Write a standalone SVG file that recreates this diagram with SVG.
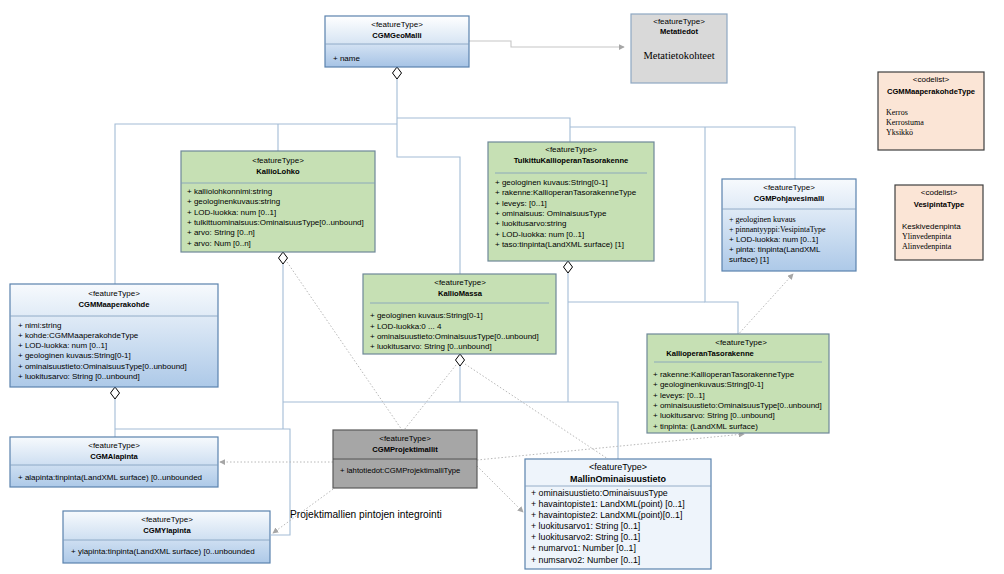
<svg xmlns="http://www.w3.org/2000/svg" width="1004" height="574" viewBox="0 0 1004 574">
<defs>
<linearGradient id="gBlue" x1="0" y1="0" x2="0" y2="1"><stop offset="0" stop-color="#f7fafd"/><stop offset="1" stop-color="#adc9e8"/></linearGradient>
<linearGradient id="gHead" x1="0" y1="0" x2="0" y2="1"><stop offset="0" stop-color="#ffffff"/><stop offset="1" stop-color="#d6e4f3"/></linearGradient>
<linearGradient id="gBody" x1="0" y1="0" x2="0" y2="1"><stop offset="0" stop-color="#d3e2f3"/><stop offset="1" stop-color="#a6c3e5"/></linearGradient>
<marker id="ah" viewBox="0 0 8 8" refX="7" refY="4" markerWidth="6" markerHeight="6" orient="auto" markerUnits="userSpaceOnUse"><path d="M0,0 L8,4 L0,8 z" fill="#a6a6a6"/></marker>
<style>
.t{font-family:"Liberation Sans",Arial,sans-serif;font-size:8px;fill:#000}
.c{text-anchor:middle}
.b{font-weight:bold;font-size:7.6px;text-anchor:middle}
.sf{font-family:"Liberation Serif","Times New Roman",serif}
.conn{fill:none;stroke:#a3bcd6;stroke-width:1.1}
.dot{fill:none;stroke:#b8b8b8;stroke-width:1;stroke-dasharray:1.5 2}
.bb{fill:url(#gBlue);stroke:#5a82ad;stroke-width:1.2}
.gb{fill:#c6e0b4;stroke:#6e8898;stroke-width:1.2}
.dv{stroke:#7f9dbd;stroke-width:0.8}
.dm{fill:#fff;stroke:#000;stroke-width:1}
.cl{fill:#fbe5d6;stroke:#3f3f3f;stroke-width:1.2}
</style>
</defs>
<rect width="1004" height="574" fill="#fff"/>

<g id="connectors">
<polyline class="conn" style="stroke:#c6c6c6" points="469,41 511,41 511,47 624,47" marker-end="url(#ah)"/>
<polyline class="conn" points="397,79 397,157 460,157 460,274"/>
<polyline class="conn" points="397,124 115,124 115,284"/>
<polyline class="conn" points="278,124 278,151"/>
<polyline class="conn" points="397,118 570,118 570,142"/>
<polyline class="conn" points="570,127 795,127 795,179"/>
<polyline class="conn" points="705,127 705,302 738,302 738,334"/>
<polyline class="conn" points="568,273 568,402"/>
<polyline class="conn" points="568,302 705,302"/>
<polyline class="conn" points="283,264 283,429"/>
<polyline class="conn" points="283,402 618,402 618,459"/>
<polyline class="conn" points="460,366 460,402"/>
<polyline class="conn" points="115,399 115,437"/>
<polyline class="conn" points="115,429 290,429 290,535 271,535"/>
<line class="dot" x1="333" y1="462" x2="220" y2="462" marker-end="url(#ah)"/>
<line class="dot" x1="477" y1="460" x2="744" y2="434" marker-end="url(#ah)"/>
<line class="dot" x1="336" y1="487" x2="273" y2="533" marker-end="url(#ah)"/>
<line class="dot" x1="477" y1="466" x2="523" y2="512" marker-end="url(#ah)"/>
<line class="dot" x1="287" y1="262" x2="402" y2="430"/>
<line class="dot" x1="456" y1="365" x2="404" y2="430"/>
<line class="dot" x1="465" y1="364" x2="608" y2="459"/>
<line class="dot" x1="735" y1="338" x2="793" y2="274" marker-end="url(#ah)"/>
<polygon class="dm" points="397,67 401.5,73 397,79 392.5,73"/>
<polygon class="dm" points="283,252 287.5,258 283,264 278.5,258"/>
<polygon class="dm" points="568,261 572.5,267 568,273 563.5,267"/>
<polygon class="dm" points="460,354 464.5,360 460,366 455.5,360"/>
<polygon class="dm" points="115,387 119.5,393 115,399 110.5,393"/>
</g>

<g id="CGMGeoMalli">
<rect x="325" y="16" width="144" height="28" fill="url(#gHead)"/>
<rect x="325" y="44" width="144" height="23" fill="url(#gBody)"/>
<rect x="325" y="16" width="144" height="51" fill="none" stroke="#5a82ad" stroke-width="1.2"/>
<line class="dv" x1="325" y1="44" x2="469" y2="44"/>
<text class="t c" x="397" y="27">&lt;featureType&gt;</text>
<text class="t b" x="397" y="38">CGMGeoMalli</text>
<text class="t" x="333" y="61">+ name</text>
</g>

<g id="Metatiedot">
<rect x="631" y="14" width="96" height="69" fill="#d9d9d9" stroke="#8ea7c2" stroke-width="1.2"/>
<text class="t c" x="679" y="24">&lt;featureType&gt;</text>
<text class="t b" x="679" y="34">Metatiedot</text>
<text class="t c sf" x="679" y="59" style="font-size:10.5px">Metatietokohteet</text>
</g>

<g id="CGMMaaperakohdeType">
<rect class="cl" x="878" y="72" width="106" height="78"/>
<text class="t c" x="931" y="82">&lt;codelist&gt;</text>
<text class="t b" x="931" y="94">CGMMaaperakohdeType</text>
<text class="t sf" x="886" y="115">Kerros</text>
<text class="t sf" x="886" y="125">Kerrostuma</text>
<text class="t sf" x="886" y="135">Yksikkö</text>
</g>

<g id="VesipintaType">
<rect class="cl" x="895" y="185" width="88" height="75"/>
<text class="t c" x="939" y="195">&lt;codelist&gt;</text>
<text class="t b" x="939" y="207">VesipintaType</text>
<text class="t" x="902" y="229">Keskivedenpinta</text>
<text class="t sf" x="902" y="239">Ylinvedenpinta</text>
<text class="t sf" x="902" y="249">Alinvedenpinta</text>
</g>

<g id="KallioLohko">
<rect class="gb" x="181" y="151" width="194" height="101"/>
<line class="dv" x1="181" y1="183" x2="375" y2="183"/>
<text class="t c" x="278" y="163">&lt;featureType&gt;</text>
<text class="t b" x="278" y="174">KallioLohko</text>
<text class="t" x="187" y="194">+ kalliolohkonnimi:string</text>
<text class="t" x="187" y="204">+ geologinenkuvaus:string</text>
<text class="t" x="187" y="214.5">+ LOD-luokka: num [0..1]</text>
<text class="t" x="187" y="225">+ tulkittuominaisuus:OminaisuusType[0..unbound]</text>
<text class="t" x="187" y="235">+ arvo: String [0..n]</text>
<text class="t" x="187" y="245.5">+ arvo: Num [0..n]</text>
</g>

<g id="TulkittuKallioperanTasorakenne">
<rect class="gb" x="488" y="142" width="166" height="119"/>
<line class="dv" x1="495" y1="173" x2="647" y2="173"/>
<text class="t c" x="571" y="152">&lt;featureType&gt;</text>
<text class="t b" x="571" y="163">TulkittuKallioperanTasorakenne</text>
<text class="t" x="495" y="185">+ geologinen kuvaus:String[0-1]</text>
<text class="t" x="495" y="195">+ rakenne:KallioperanTasorakenneType</text>
<text class="t" x="495" y="205.5">+ leveys: [0..1]</text>
<text class="t" x="495" y="216">+ ominaisuus: OminaisuusType</text>
<text class="t" x="495" y="226">+ luokitusarvo:string</text>
<text class="t" x="495" y="236.5">+ LOD-luokka: num [0..1]</text>
<text class="t" x="495" y="247">+ taso:tinpinta(LandXML surface) [1]</text>
</g>

<g id="CGMPohjavesimalli">
<rect class="bb" x="722" y="179" width="134" height="92"/>
<line class="dv" x1="722" y1="209" x2="856" y2="209"/>
<text class="t c" x="789" y="190">&lt;featureType&gt;</text>
<text class="t b" x="789" y="201">CGMPohjavesimalli</text>
<text class="t sf" x="729" y="222">+ geologinen kuvaus</text>
<text class="t sf" x="729" y="232">+ pinnantyyppi:VesipintaType</text>
<text class="t" x="729" y="242">+ LOD-luokka: num [0..1]</text>
<text class="t" x="729" y="252">+ pinta: tinpinta(LandXML</text>
<text class="t" x="729" y="262">surface) [1]</text>
</g>

<g id="CGMMaaperakohde">
<rect class="bb" x="10" y="284" width="208" height="103"/>
<line class="dv" x1="10" y1="316" x2="218" y2="316"/>
<text class="t c" x="114" y="296">&lt;featureType&gt;</text>
<text class="t b" x="114" y="307">CGMMaaperakohde</text>
<text class="t" x="18" y="328">+ nimi:string</text>
<text class="t" x="18" y="338">+ kohde:CGMMaaperakohdeType</text>
<text class="t" x="18" y="348">+ LOD-luokka: num [0..1]</text>
<text class="t" x="18" y="358">+ geologinen kuvaus:String[0-1]</text>
<text class="t" x="18" y="368.5">+ ominaisuustieto:OminaisuusType[0..unbound]</text>
<text class="t" x="18" y="379">+ luokitusarvo: String [0..unbound]</text>
</g>

<g id="KallioMassa">
<rect class="gb" x="363" y="274" width="193" height="80"/>
<line class="dv" x1="370" y1="303" x2="549" y2="303"/>
<text class="t c" x="460" y="285">&lt;featureType&gt;</text>
<text class="t b" x="460" y="296">KallioMassa</text>
<text class="t" x="370" y="318">+ geologinen kuvaus:String[0-1]</text>
<text class="t" x="370" y="328.5">+ LOD-luokka:0 ... 4</text>
<text class="t" x="370" y="339">+ ominaisuustieto:OminaisuusType[0..unbound]</text>
<text class="t" x="370" y="349">+ luokitusarvo: String [0..unbound]</text>
</g>

<g id="KallioperanTasorakenne">
<rect class="gb" x="647" y="334" width="182" height="99"/>
<line class="dv" x1="654" y1="362" x2="822" y2="362"/>
<text class="t c" x="741" y="345">&lt;featureType&gt;</text>
<text class="t b" x="710" y="356">KallioperanTasorakenne</text>
<text class="t" x="653" y="377">+ rakenne:KallioperanTasorakenneType</text>
<text class="t" x="653" y="387">+ geologinenkuvaus:String[0-1]</text>
<text class="t" x="653" y="397.5">+ leveys: [0..1]</text>
<text class="t" x="653" y="408">+ ominaisuustieto:OminaisuusType[0..unbound]</text>
<text class="t" x="653" y="418">+ luokitusarvo: String [0..unbound]</text>
<text class="t" x="653" y="428.5">+ tinpinta: (LandXML surface)</text>
</g>

<g id="CGMAlapinta">
<rect class="bb" x="10" y="437" width="208" height="50"/>
<line class="dv" x1="10" y1="465" x2="218" y2="465"/>
<text class="t c" x="114" y="448">&lt;featureType&gt;</text>
<text class="t b" x="114" y="459">CGMAlapinta</text>
<text class="t" x="18" y="480">+ alapinta:tinpinta(LandXML surface) [0..unbounded</text>
</g>

<g id="CGMProjektimallit">
<rect x="333" y="430" width="144" height="58" fill="#a6a6a6" stroke="#5a5a5a" stroke-width="1.2"/>
<line x1="333" y1="459" x2="477" y2="459" stroke="#404040" stroke-width="0.8"/>
<text class="t c" x="405" y="441">&lt;featureType&gt;</text>
<text class="t b" x="405" y="452">CGMProjektimallit</text>
<text class="t" x="340" y="473" style="font-size:7.7px">+ lahtotiedot:CGMProjektimalliType</text>
</g>

<g id="MallinOminaisuustieto">
<rect class="bb" x="525" y="459" width="186" height="110" style="fill:#eef4fb"/>
<text class="t c" x="618" y="470" style="font-size:9px">&lt;featureType&gt;</text>
<text class="t b" x="618" y="482" style="font-size:9px">MallinOminaisuustieto</text>
<line class="dv" x1="525" y1="486" x2="711" y2="486"/>
<text class="t" x="531" y="496" style="font-size:8.8px">+ ominaisuustieto:OminaisuusType</text>
<text class="t" x="531" y="507" style="font-size:8.8px">+ havaintopiste1: LandXML(point) [0..1]</text>
<text class="t" x="531" y="518" style="font-size:8.8px">+ havaintopiste2: LandXML(point)[0..1]</text>
<text class="t" x="531" y="529" style="font-size:8.8px">+ luokitusarvo1: String [0..1]</text>
<text class="t" x="531" y="540" style="font-size:8.8px">+ luokitusarvo2: String [0..1]</text>
<text class="t" x="531" y="551" style="font-size:8.8px">+ numarvo1: Number [0..1]</text>
<text class="t" x="531" y="562.5" style="font-size:8.8px">+ numsarvo2: Number [0..1]</text>
</g>

<g id="CGMYlapinta">
<rect class="bb" x="63" y="511" width="207" height="52"/>
<line class="dv" x1="63" y1="540" x2="270" y2="540"/>
<text class="t c" x="167" y="522">&lt;featureType&gt;</text>
<text class="t b" x="167" y="533">CGMYlapinta</text>
<text class="t" x="71" y="554">+ ylapinta:tinpinta(LandXML surface) [0..unbounded</text>
</g>

<text class="t" x="290" y="518" style="font-size:10.2px">Projektimallien pintojen integrointi</text>
</svg>
